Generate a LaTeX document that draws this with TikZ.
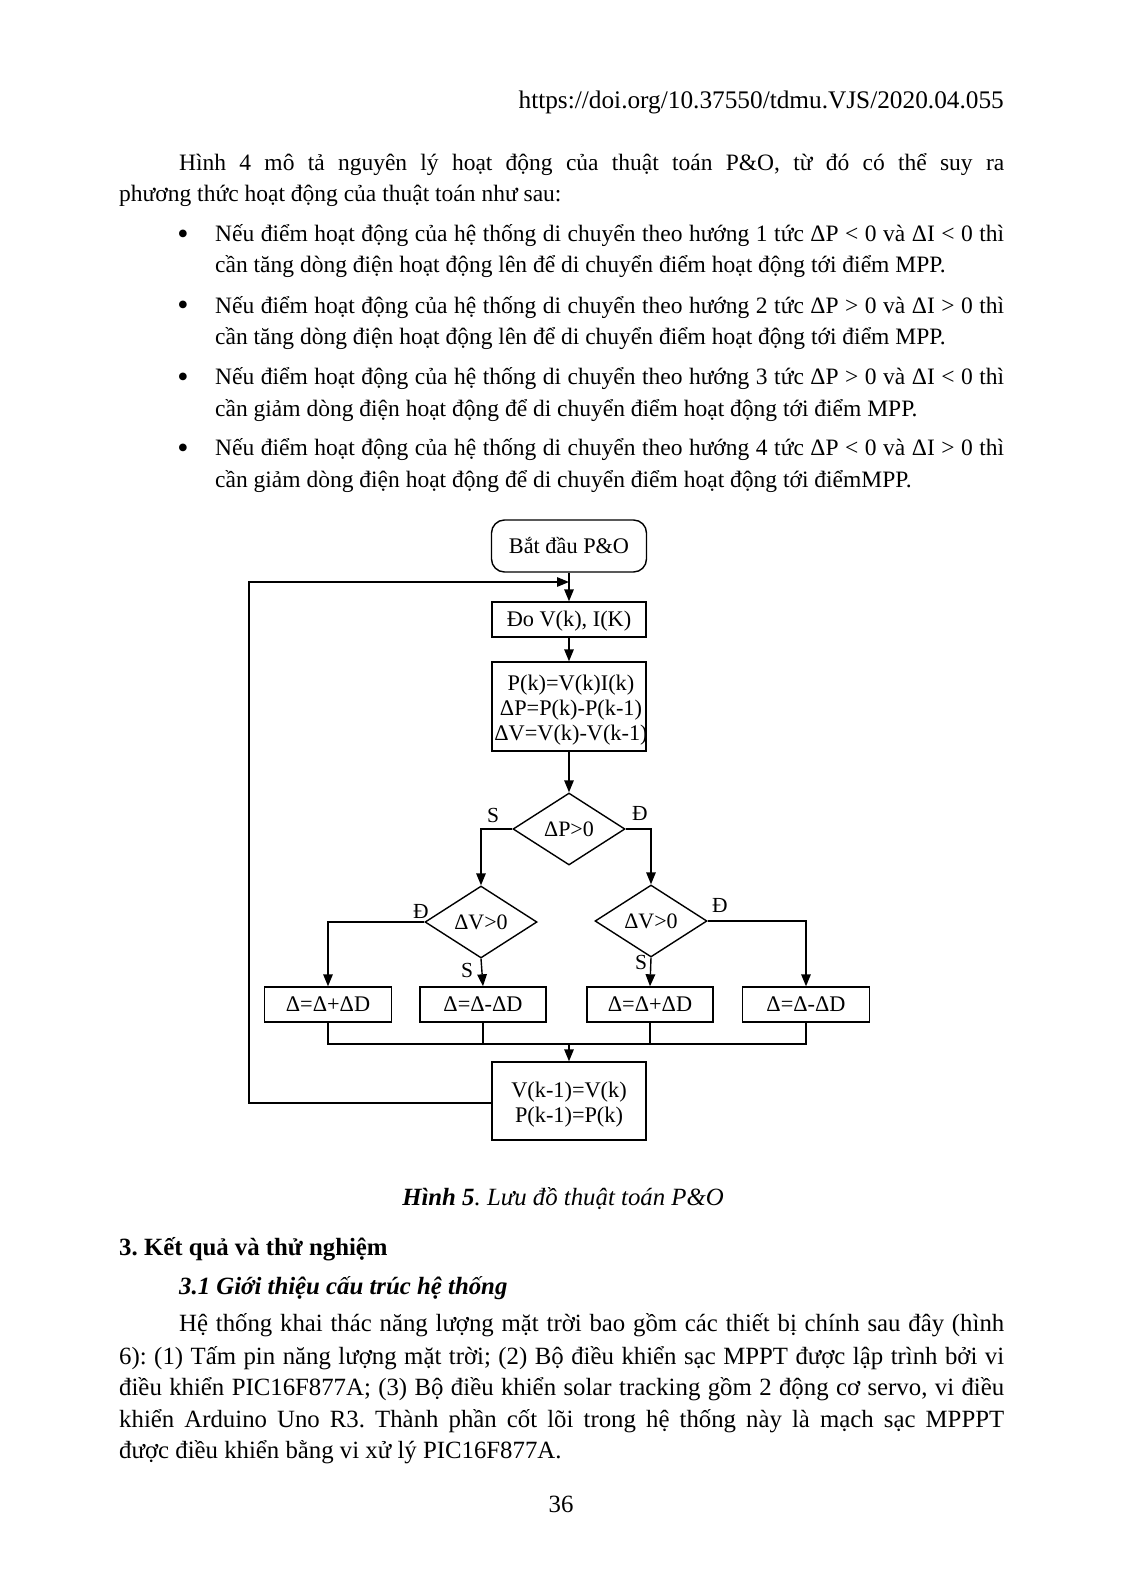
\documentclass[tikz,border=0pt]{standalone}
\usepackage{fontspec}
\setmainfont{Liberation Serif}
\usetikzlibrary{arrows.meta,shapes.geometric,calc}
\begin{document}
\frenchspacing
\begin{tikzpicture}[x=1pt,y=-1pt,
  body/.style={inner sep=0pt, anchor=base west, font=\fontsize{23.5}{28}\selectfont},
  bodyb/.style={inner sep=0pt, anchor=base west, font=\fontsize{24.8}{28}\selectfont},
  fbox/.style={draw, line width=1.4pt, inner sep=0pt, align=center, font=\fontsize{22.3}{25}\selectfont},
  ftext/.style={inner sep=0pt, align=center, font=\fontsize{22.3}{25}\selectfont},
  dbox/.style={diamond, draw, line width=1.4pt, inner sep=0pt, minimum width=112pt, minimum height=72pt, aspect=1.55, font=\fontsize{22}{25}\selectfont},
  lbl/.style={inner sep=0pt, font=\fontsize{21.5}{25}\selectfont},
  conn/.style={line width=1.4pt},
  arr/.style={line width=1.4pt, -{Triangle[length=12pt,width=9.5pt]}}]
\useasboundingbox (0,0) rectangle (1122,1594);
\fill[white] (0,0) rectangle (1122,1594);

% header
\node[body, anchor=base east, font=\fontsize{25.3}{28}\selectfont] (doi) at (1004,109) {https://doi.org/10.37550/tdmu.VJS/2020.04.055};

% paragraph
\node[body] (p1) at (179,171) {\makebox[825pt][s]{Hình 4 mô tả nguyên lý hoạt động của thuật toán P\&O, từ đó có thể suy ra}};
\node[body] (p2) at (119,202) {phương thức hoạt động của thuật toán như sau:};

% bullets
\foreach \y/\n in {245/1,316/2,387/3,458/4}{
  \node[body, anchor=base, font=\fontsize{32}{32}\selectfont] (bul\n) at (183,\y) {•};
}
\node[body] (b1a) at (215,242) {\makebox[789pt][s]{Nếu điểm hoạt động của hệ thống di chuyển theo hướng 1 tức ΔP < 0 và ΔI < 0 thì}};
\node[body] (b1b) at (215,273) {cần tăng dòng điện hoạt động lên để di chuyển điểm hoạt động tới điểm MPP.};
\node[body] (b2a) at (215,313) {\makebox[789pt][s]{Nếu điểm hoạt động của hệ thống di chuyển theo hướng 2 tức ΔP > 0 và ΔI > 0 thì}};
\node[body] (b2b) at (215,344) {cần tăng dòng điện hoạt động lên để di chuyển điểm hoạt động tới điểm MPP.};
\node[body] (b3a) at (215,384) {\makebox[789pt][s]{Nếu điểm hoạt động của hệ thống di chuyển theo hướng 3 tức ΔP > 0 và ΔI < 0 thì}};
\node[body] (b3b) at (215,416) {cần giảm dòng điện hoạt động để di chuyển điểm hoạt động tới điểm MPP.};
\node[body] (b4a) at (215,455) {\makebox[789pt][s]{Nếu điểm hoạt động của hệ thống di chuyển theo hướng 4 tức ΔP < 0 và ΔI > 0 thì}};
\node[body] (b4b) at (215,487) {cần giảm dòng điện hoạt động để di chuyển điểm hoạt động tới điểmMPP.};

% flowchart
\node[fbox, rounded corners=13pt, minimum width=155pt, minimum height=52pt] (start) at (569,546) {Bắt đầu P\&O};
\node[fbox, minimum width=154pt, minimum height=35pt] (meas) at (569,619.5) {};
\node[ftext] (meastext) at (569,621) {Đo V(k), I(K)};
\node[fbox, minimum width=154pt, minimum height=89pt] (calc) at (569,706.5) {};
\node[ftext] (calctext) at (571,710) {P(k)=V(k)I(k)\\ΔP=P(k)-P(k-1)\\ΔV=V(k)-V(k-1)};
\node[dbox] (dP) at (569,829) {ΔP>0};
\node[dbox] (dVL) at (481,922) {ΔV>0};
\node[dbox] (dVR) at (651,921) {ΔV>0};
\node[fbox, minimum width=127pt, minimum height=35pt] (r1) at (328,1004.5) {Δ=Δ+ΔD};
\node[fbox, minimum width=126pt, minimum height=35pt] (r2) at (483,1004.5) {Δ=Δ-ΔD};
\node[fbox, minimum width=126pt, minimum height=35pt] (r3) at (650,1004.5) {Δ=Δ+ΔD};
\node[fbox, minimum width=127pt, minimum height=35pt] (r4) at (806,1004.5) {Δ=Δ-ΔD};
\node[fbox, minimum width=154pt, minimum height=78pt] (upd) at (569,1101) {};
\node[ftext] (updtext) at (569,1105) {V(k-1)=V(k)\\P(k-1)=P(k)};

\coordinate (loopin) at (569,582);
\coordinate (merge) at (569,1044);

\draw[arr] (start.south) -- (meas.north);
\draw[arr] (meas.south) -- (calc.north);
\draw[arr] (calc.south) -- (dP.north);
\draw[arr] (dP.west) -| (dVL.north);
\draw[arr] (dP.east) -| (dVR.north);
\draw[arr] (dVL.west) -| (r1.north);
\draw[arr] (dVL.south) -- (r2.north);
\draw[arr] (dVR.south) -- (r3.north);
\draw[arr] (dVR.east) -| (r4.north);
\draw[conn] (r1.south) |- (merge);
\draw[conn] (r4.south) |- (merge);
\draw[conn] (r2.south) -- (r2.south |- merge);
\draw[conn] (r3.south) -- (r3.south |- merge);
\draw[arr] (merge) -- (upd.north);
\draw[arr] (upd.west |- 0,1103) -- (249,1103) -- (249,582) -- (loopin);

\node[lbl] (lS1) at (493,815) {S};
\node[lbl] (lD1) at (640,813) {Đ};
\node[lbl] (lD2) at (421,911) {Đ};
\node[lbl] (lS2) at (467,970) {S};
\node[lbl] (lD3) at (720,905) {Đ};
\node[lbl] (lS3) at (641,962) {S};

% caption
\node[bodyb, anchor=base] (cap) at (563,1205) {\textbf{\textit{Hình 5}}\textit{. Lưu đồ thuật toán P\&O}};

% section
\node[bodyb] (h3) at (119,1255) {\textbf{3. Kết quả và thử nghiệm}};
\node[bodyb] (h31) at (179,1294) {\textbf{\textit{3.1 Giới thiệu cấu trúc hệ thống}}};
\node[bodyb] (q1) at (179,1331) {\makebox[825pt][s]{Hệ thống khai thác năng lượng mặt trời bao gồm các thiết bị chính sau đây (hình}};
\node[bodyb] (q2) at (119,1364) {\makebox[885pt][s]{6): (1) Tấm pin năng lượng mặt trời; (2) Bộ điều khiển sạc MPPT được lập trình bởi vi}};
\node[bodyb] (q3) at (119,1395) {\makebox[885pt][s]{điều khiển PIC16F877A; (3) Bộ điều khiển solar tracking gồm 2 động cơ servo, vi điều}};
\node[bodyb] (q4) at (119,1427) {\makebox[885pt][s]{khiển Arduino Uno R3. Thành phần cốt lõi trong hệ thống này là mạch sạc MPPPT}};
\node[bodyb] (q5) at (119,1458) {được điều khiển bằng vi xử lý PIC16F877A.};

\node[bodyb, anchor=base] (pg) at (561,1512) {36};
\end{tikzpicture}
\end{document}
